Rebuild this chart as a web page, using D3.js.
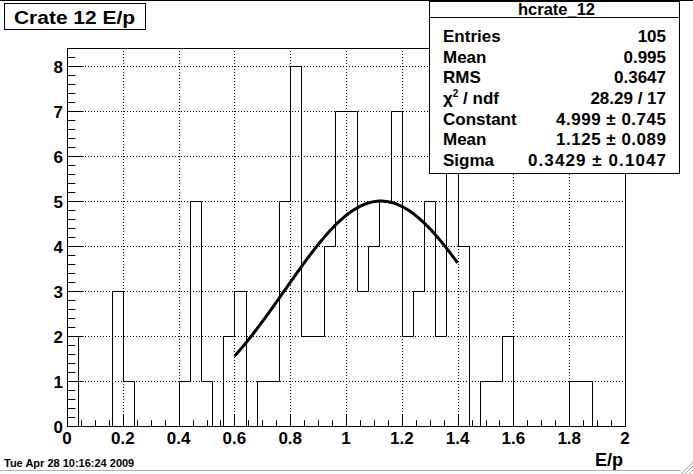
<!DOCTYPE html>
<html>
<head>
<meta charset="utf-8">
<script src="https://cdn.jsdelivr.net/npm/d3@7"></script>
<style>
  html, body { margin: 0; padding: 0; background: #fff; }
  svg { display: block; }
  text { font-family: "Liberation Sans", Arial, Helvetica, sans-serif; font-weight: bold; fill: #000; }
</style>
</head>
<body>
<svg id="chart" width="693" height="474"></svg>
<script>
// ---- data ----
const binLow = 0, binHigh = 2, nBins = 50;
const counts = [2,0,0,0,3,1,0,0,0,0,
                1,5,1,0,2,3,0,1,1,5,
                8,2,2,4,7,7,3,4,5,7,
                2,3,5,2,7,4,0,1,1,2,
                0,0,0,0,0,1,1,0,0,0];
const xTicks = [0,0.2,0.4,0.6,0.8,1,1.2,1.4,1.6,1.8,2];
const xTickLabels = ["0","0.2","0.4","0.6","0.8","1","1.2","1.4","1.6","1.8","2"];
const yTicks = [0,1,2,3,4,5,6,7,8];
const yTickLabels = ["0","1","2","3","4","5","6","7","8"];
const fitConstant = 4.999, fitMean = 1.125, fitSigma = 0.3429;
const fitRange = [0.6, 1.4];
const statsTitle = "hcrate_12";
const statsLabels = ["Entries","Mean","RMS","\u03C7\u00B2 / ndf","Constant","Mean","Sigma"];
const statsValues = ["105","0.995","0.3647","28.29 / 17","4.999 \u00B1 0.745","1.125 \u00B1 0.089","0.3429 \u00B1 0.1047"];
const chartTitle = "Crate 12 E/p";
const xTitle = "E/p";
const dateText = "Tue Apr 28 10:16:24 2009";

// ---- layout ----
const svg = d3.select("#chart");
const L = 67, R = 625, T = 48, B = 426;
const x = d3.scaleLinear().domain([binLow, binHigh]).range([L, R]);
const y = d3.scaleLinear().domain([0, 8.4]).range([B, T]);
const W = 693, H = 474;

// window border lines
svg.append("line").attr("x1",0).attr("x2",W).attr("y1",0.5).attr("y2",0.5).attr("stroke","#000");
svg.append("line").attr("x1",0).attr("x2",W-12).attr("y1",470.5).attr("y2",470.5).attr("stroke","#b0b0b0");
// resize grip
[4,8,12].forEach(d => {
  svg.append("line").attr("x1",W-d).attr("y1",H).attr("x2",W).attr("y2",H-d).attr("stroke","#a0a0a0");
});

// grid
const g = svg.append("g");
xTicks.slice(1,-1).forEach(t => {
  g.append("line").attr("x1",Math.round(x(t))+0.5).attr("x2",Math.round(x(t))+0.5).attr("y1",T).attr("y2",B)
   .attr("stroke","#000").attr("stroke-dasharray","1,2");
});
yTicks.slice(1).forEach(t => {
  g.append("line").attr("x1",L).attr("x2",R).attr("y1",Math.round(y(t))+0.5).attr("y2",Math.round(y(t))+0.5)
   .attr("stroke","#000").attr("stroke-dasharray","1,2");
});

// histogram outline
const bw = (binHigh - binLow) / nBins;
const pts = [[binLow, 0]];
counts.forEach((c, i) => { pts.push([binLow + i*bw, c]); pts.push([binLow + (i+1)*bw, c]); });
pts.push([binHigh, 0]);
const line = d3.line().x(d => Math.round(x(d[0]))+0.5).y(d => Math.round(y(d[1]))+0.5);
svg.append("path").attr("d", line(pts)).attr("fill","none").attr("stroke","#000").attr("stroke-width",1);

// fit curve
const fx = d3.range(0, 101).map(i => fitRange[0] + (fitRange[1]-fitRange[0]) * i / 100);
const fitPts = fx.map(v => [v, fitConstant * Math.exp(-0.5 * Math.pow((v - fitMean)/fitSigma, 2))]);
svg.append("path").attr("d", d3.line().x(d => x(d[0])).y(d => y(d[1]))(fitPts))
  .attr("fill","none").attr("stroke","#000").attr("stroke-width",3);

// frame
svg.append("rect").attr("x",L+0.5).attr("y",T+0.5).attr("width",R-L).attr("height",B-T)
  .attr("fill","none").attr("stroke","#000");

// y axis ticks
const yMajLen = 16.7, yMinLen = 8.4;
d3.range(0, 43).forEach(i => {
  const v = i * 0.2;
  const major = i % 5 === 0;
  const yy = Math.round(y(v)) + 0.5;
  svg.append("line").attr("x1",L).attr("x2",L + (major ? yMajLen : yMinLen)).attr("y1",yy).attr("y2",yy).attr("stroke","#000");
});
// x axis ticks
const xMajLen = 11.3, xMinLen = 5.7;
d3.range(0, 41).forEach(i => {
  const v = i * 0.05;
  const major = i % 4 === 0;
  const xx = Math.round(x(v)) + 0.5;
  svg.append("line").attr("x1",xx).attr("x2",xx).attr("y1",B).attr("y2",B - (major ? xMajLen : xMinLen)).attr("stroke","#000");
});

// tick labels
yTicks.forEach((t, i) => {
  svg.append("text").attr("x", 63).attr("y", y(t) + 6.5).attr("text-anchor","end")
    .attr("font-size", 17).text(yTickLabels[i]);
});
xTicks.forEach((t, i) => {
  svg.append("text").attr("x", x(t)).attr("y", 443.5).attr("text-anchor","middle")
    .attr("font-size", 17).text(xTickLabels[i]);
});

// axis title
svg.append("text").attr("x", 623).attr("y", 466).attr("text-anchor","end").attr("font-size",18).text(xTitle);

// date
svg.append("text").attr("x", 4).attr("y", 467).attr("font-size", 11).text(dateText);

// title box
svg.append("rect").attr("x",4.5).attr("y",3.5).attr("width",141).attr("height",26).attr("fill","#fff").attr("stroke","#000");
svg.append("text").attr("x",14).attr("y",23.5).attr("font-size",19).attr("textLength",121).attr("lengthAdjust","spacingAndGlyphs").text(chartTitle);

// stats box
const sx = 429.5, sy = 1.5, sw = 250, sh = 172;
svg.append("rect").attr("x",sx).attr("y",sy).attr("width",sw).attr("height",sh).attr("fill","#fff").attr("stroke","#000");
svg.append("line").attr("x1",sx).attr("x2",sx+sw).attr("y1",17.5).attr("y2",17.5).attr("stroke","#000");
svg.append("text").attr("x", 556.5).attr("y", 14.5).attr("text-anchor","middle").attr("font-size",16.5).text(statsTitle);
const rowY = [41.5, 62.5, 83, 104, 124.5, 145, 165.5];
const valueWidths = [null, null, null, null, 110, 110, 138];
statsLabels.forEach((lab, i) => {
  const t = svg.append("text").attr("x", 443).attr("y", rowY[i]).attr("font-size", 17);
  if (lab.indexOf("\u00B2") >= 0) {
    t.append("tspan").text("\u03C7");
    t.append("tspan").attr("font-size", 10).attr("dy", -7).text("2");
    t.append("tspan").attr("dy", 7).text(" / ndf");
  } else {
    t.text(lab);
  }
  const v = svg.append("text").attr("x", 666).attr("y", rowY[i]).attr("text-anchor","end").attr("font-size",17).text(statsValues[i]);
  if (valueWidths[i]) v.attr("textLength", valueWidths[i]).attr("lengthAdjust","spacing");
});
</script>
</body>
</html>
